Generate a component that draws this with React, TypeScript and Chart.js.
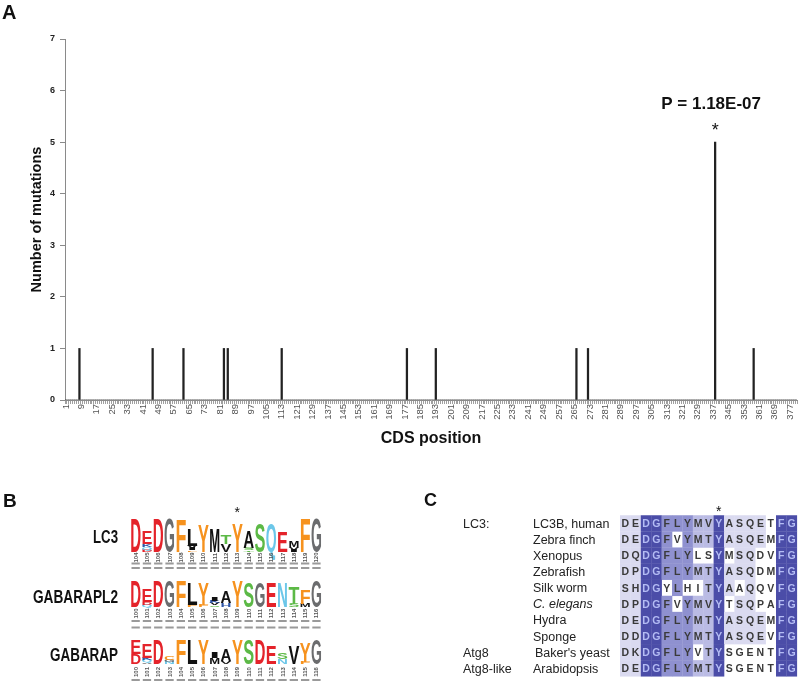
import React, { useEffect, useRef } from 'react';
import { Chart, registerables } from 'chart.js';

Chart.register(...registerables);

const FONT = '"Liberation Sans", Arial, Helvetica, sans-serif';

// ---------------- Panel A data ----------------
const cdsFirst = 1;
const cdsLast = 380;
const cdsPositions: string[] = Array.from({ length: cdsLast - cdsFirst + 1 }, (_, i) => String(cdsFirst + i));
const mutatedPositions = [8, 46, 62, 83, 85, 113, 178, 193, 266, 272, 338, 358];
const mutationCounts = [1, 1, 1, 1, 1, 1, 1, 1, 1, 1, 5, 1];
const yMin = 0;
const yMax = 7;
const xLabelEvery = 8;
const significantPosition = 338;
const pValueLabel = 'P = 1.18E-07';
const xTitle = 'CDS position';
const yTitle = 'Number of mutations';

// ---------------- Panel B data (sequence logos, heights in bits, top -> bottom) ----------------
type Stack = [string, number][];
const logoNames = ['LC3', 'GABARAPL2', 'GABARAP'];
const logoFirstResidue = [104, 100, 100];
const logoMaxBits = 4.2;
const lc3Logo: Stack[] = [
  [['D', 4.2]],
  [['E', 1.7], ['K', 0.35], ['Q', 0.3], ['D', 0.3]],
  [['D', 4.2]],
  [['G', 4.2]],
  [['F', 4.1]],
  [['L', 2.1], ['V', 0.3], ['I', 0.25], ['F', 0.2]],
  [['Y', 3.4]],
  [['M', 3.0]],
  [['T', 1.2], ['V', 1.0]],
  [['Y', 3.6]],
  [['A', 2.1], ['S', 0.3], ['T', 0.2]],
  [['S', 3.6]],
  [['Q', 3.6]],
  [['E', 2.7]],
  [['M', 0.8], ['V', 0.35], ['I', 0.3]],
  [['F', 4.2]],
  [['G', 4.2]],
];
const gabarapl2Logo: Stack[] = [
  [['D', 4.2]],
  [['E', 2.0], ['D', 0.45], ['Q', 0.35]],
  [['D', 4.2]],
  [['G', 4.2]],
  [['F', 4.2]],
  [['L', 3.6], ['F', 0.3]],
  [['Y', 3.6], ['F', 0.3]],
  [['I', 0.7], ['K', 0.35], ['V', 0.3], ['S', 0.25]],
  [['A', 1.9], ['H', 0.6]],
  [['Y', 4.2]],
  [['S', 4.0]],
  [['G', 4.0]],
  [['E', 4.0]],
  [['N', 3.9]],
  [['T', 2.6], ['S', 0.5]],
  [['F', 2.3], ['M', 0.5]],
  [['G', 4.2]],
];
const gabarapLogo: Stack[] = [
  [['E', 2.3], ['D', 1.6]],
  [['E', 2.2], ['K', 0.35], ['Q', 0.3], ['A', 0.25]],
  [['D', 4.0]],
  [['C', 0.6], ['G', 0.3], ['N', 0.3]],
  [['F', 4.0]],
  [['L', 4.0]],
  [['Y', 4.0]],
  [['I', 1.0], ['M', 1.0]],
  [['A', 1.8], ['V', 0.4]],
  [['Y', 4.0]],
  [['S', 4.0]],
  [['D', 4.0]],
  [['E', 2.8]],
  [['S', 1.0], ['N', 0.8]],
  [['V', 2.8]],
  [['Y', 3.0], ['F', 0.3]],
  [['G', 4.0]],
];
const logos = [lc3Logo, gabarapl2Logo, gabarapLogo];
const logoStarColumn = 9;

// ---------------- Panel C data (alignment) ----------------
const alignGroups = ['LC3:', '', '', '', '', '', '', '', 'Atg8', 'Atg8-like'];
const alignSpecies = ['LC3B, human', 'Zebra finch', 'Xenopus', 'Zebrafish', 'Silk worm', 'C. elegans', 'Hydra', 'Sponge', "Baker's yeast", 'Arabidopsis'];
const alignItalic = [false, false, false, false, false, true, false, false, false, false];
const alignSeqs = [
  'DEDGFLYMVYASQETFG',
  'DEDGFVYMTYASQEMFG',
  'DQDGFLYLSYMSQDVFG',
  'DPDGFLYMTYASQDMFG',
  'SHDGYLHITYAAQQVFG',
  'DPDGFVYMVYTSQPAFG',
  'DEDGFLYMTYASQEMFG',
  'DDDGFLYMTYASQEVFG',
  'DKDGFLYVTYSGENTFG',
  'DEDGFLYMTYSGENTFG',
];
// conservation shading: d = dark, m = medium, l = light, p = pale, . = none
const alignShading = [
  'ppddmmmlldpppp.dd',
  'ppddm.mlldpppp.dd',
  'ppddmmm..d.pp..dd',
  'ppddmmmlldppp..dd',
  'ppdd.m..ldp.p..dd',
  'ppddm.mlld.pp..dd',
  'ppddmmmlldpppp.dd',
  'ppddmmmlldpppp.dd',
  'ppddmmm.ld.....dd',
  'ppddmmmlld.....dd',
];
const alignStarColumn = 9;

// ---------------- styles ----------------
const residueColor: Record<string, string> = {
  D: '#e4232a', E: '#e4232a',
  G: '#6b6c6e',
  F: '#f6921e', Y: '#f6921e', C: '#f6921e', W: '#f6921e',
  L: '#111111', M: '#111111', I: '#111111', V: '#111111', A: '#111111', P: '#111111',
  S: '#5cb946', T: '#5cb946',
  N: '#6cc7e9', Q: '#6cc7e9',
  K: '#2e55a5', R: '#2e55a5', H: '#2e55a5',
};
const shadeColor: Record<string, string> = {
  d: '#4b4da8', m: '#8f91d0', l: '#babbe4', p: '#dadaf0', '.': 'transparent',
};

const annotationPlugin = {
  id: 'pValueAnnotation',
  afterDatasetsDraw(chart: any) {
    const { ctx, scales } = chart;
    const xs = scales.x;
    const ys = scales.y;
    const idx = cdsPositions.indexOf(String(significantPosition));
    const k = mutatedPositions.indexOf(significantPosition);
    const px = xs.getPixelForValue(idx);
    const py = ys.getPixelForValue(mutationCounts[k]);
    ctx.save();
    ctx.fillStyle = '#111';
    ctx.textAlign = 'center';
    ctx.textBaseline = 'alphabetic';
    ctx.font = `bold 17px ${FONT}`;
    ctx.fillText(pValueLabel, px - 4, py - 33);
    ctx.font = `18px ${FONT}`;
    ctx.fillText('*', px, py - 6);
    ctx.restore();
  },
};

function MutationChart() {
  const ref = useRef<HTMLCanvasElement | null>(null);
  useEffect(() => {
    if (!ref.current) return;
    const data = cdsPositions.map((p) => {
      const k = mutatedPositions.indexOf(Number(p));
      return k >= 0 ? mutationCounts[k] : 0;
    });
    const chart = new Chart(ref.current, {
      type: 'bar',
      data: {
        labels: cdsPositions,
        datasets: [
          {
            data,
            backgroundColor: '#222222',
            borderWidth: 0,
            barThickness: 1.6,
          },
        ],
      },
      options: {
        responsive: false,
        animation: false,
        events: [],
        layout: { padding: { top: 39, right: 3, bottom: 0, left: 0 } },
        plugins: { legend: { display: false }, tooltip: { enabled: false } },
        scales: {
          x: {
            type: 'category',
            offset: true,
            afterFit: (s: any) => { s.height = 60; s.paddingRight = 0; s.paddingLeft = 0; },
            grid: { drawOnChartArea: false, drawTicks: true, tickLength: 4, color: '#a0a0a0', offset: true },
            border: { display: true, color: '#8a8a8a', width: 1 },
            ticks: {
              autoSkip: false,
              minRotation: 90,
              maxRotation: 90,
              padding: 0,
              color: '#555',
              font: { family: FONT, size: 9.5 },
              callback: function (this: any, value: any, index: number) {
                return index % xLabelEvery === 0 ? this.getLabelForValue(value) : '';
              },
            },
            title: {
              display: true,
              text: xTitle,
              color: '#111',
              font: { family: FONT, size: 16, weight: 'bold' },
              padding: { top: 0, bottom: 12 },
            },
          },
          y: {
            min: yMin,
            max: yMax,
            afterFit: (s: any) => { s.width = 65; },
            grid: { drawOnChartArea: false, drawTicks: true, tickLength: 5, color: '#8a8a8a' },
            border: { display: true, color: '#8a8a8a', width: 1 },
            ticks: {
              stepSize: 1,
              padding: 5,
              color: '#222',
              font: { family: FONT, size: 9, weight: 'bold' },
            },
            title: {
              display: true,
              text: yTitle,
              color: '#111',
              font: { family: FONT, size: 14.5, weight: 'bold' },
              padding: { top: 28, bottom: 0 },
            },
          },
        },
      } as any,
      plugins: [annotationPlugin],
    });
    return () => chart.destroy();
  }, []);
  return <canvas ref={ref} width={800} height={460} style={{ display: 'block', width: 800, height: 460 }} />;
}

function LogoLetter({ ch, x, yBottom, w, h }: { ch: string; x: number; yBottom: number; w: number; h: number }) {
  if (h <= 0.2) return null;
  const sx = w / 70;
  const sy = h / 72;
  return (
    <text
      transform={`translate(${x},${yBottom}) scale(${sx},${sy})`}
      fontSize={100}
      fontWeight="bold"
      fontFamily={FONT}
      fill={residueColor[ch] || '#111'}
      textLength={70}
      lengthAdjust="spacingAndGlyphs"
    >
      {ch}
    </text>
  );
}

function PanelB() {
  const colX0 = 130;
  const colW = 11.3;
  const rowBottom = [552, 607, 664];
  const rowFull = [34, 27, 27];
  const numCenter = [557.5, 613.5, 672];
  const dashY = [[562.5, 567], [620, 626.5], [679]];
  const labelBaseline = [543, 603, 661];
  const labelWidth = [25, 85, 68];
  const out: any[] = [];
  logos.forEach((logo, r) => {
    out.push(
      <text key={`lab${r}`} x={118} y={labelBaseline[r]} textAnchor="end" fontFamily={FONT} fontWeight="bold" fontSize={18}
        fill="#111" textLength={labelWidth[r]} lengthAdjust="spacingAndGlyphs">{logoNames[r]}</text>
    );
    logo.forEach((stack, c) => {
      const x = colX0 + c * colW + 0.2;
      const pxPerBit = rowFull[r] / logoMaxBits;
      let y = rowBottom[r];
      for (let i = stack.length - 1; i >= 0; i--) {
        const [ch, bits] = stack[i];
        const h = bits * pxPerBit;
        out.push(<LogoLetter key={`l${r}-${c}-${i}`} ch={ch} x={x} yBottom={y} w={colW - 0.4} h={h} />);
        y -= h;
      }
      const cx = colX0 + c * colW + colW / 2;
      out.push(
        <text key={`n${r}-${c}`} transform={`translate(${cx + 2},${numCenter[r]}) rotate(-90)`} textAnchor="middle"
          fontFamily={FONT} fontSize={6} fontWeight="bold" fill="#555">{String(logoFirstResidue[r] + c)}</text>
      );
      dashY[r].forEach((dy, j) => {
        out.push(<rect key={`d${r}-${c}-${j}`} x={colX0 + c * colW + 1.5} y={dy} width={colW - 3} height={2} fill="#9a9a9a" />);
      });
    });
  });
  out.push(
    <text key="starB" x={colX0 + logoStarColumn * colW + colW / 2} y={517} textAnchor="middle" fontFamily={FONT} fontSize={14} fill="#111">*</text>
  );
  return <g>{out}</g>;
}

function PanelC() {
  const cellX0 = 620;
  const cellW = 10.4;
  const rowY0 = 523.3;
  const rowH = 16.1;
  const out: any[] = [];
  alignSeqs.forEach((seq, r) => {
    const cy = rowY0 + r * rowH;
    if (alignGroups[r]) {
      out.push(<text key={`g${r}`} x={463} y={cy + 4.5} fontFamily={FONT} fontSize={12.5} fill="#222">{alignGroups[r]}</text>);
    }
    out.push(
      <text key={`s${r}`} x={r === 8 ? 535 : 533} y={cy + 4.5} fontFamily={FONT} fontSize={12.5} fill="#222"
        fontStyle={alignItalic[r] ? 'italic' : 'normal'}>{alignSpecies[r]}</text>
    );
    seq.split('').forEach((ch, c) => {
      const sh = alignShading[r][c];
      const x = cellX0 + c * cellW;
      if (sh !== '.') {
        out.push(<rect key={`b${r}-${c}`} x={x} y={cy - rowH / 2} width={cellW + 0.3} height={rowH + 0.3} fill={shadeColor[sh]} />);
      }
      out.push(
        <text key={`t${r}-${c}`} x={x + cellW / 2} y={cy + 3.8} textAnchor="middle" fontFamily={FONT} fontWeight="bold"
          fontSize={10.5} fill={sh === 'd' ? '#b4bcf4' : '#3a3a3a'}>{ch}</text>
      );
    });
  });
  out.push(
    <text key="starC" x={cellX0 + alignStarColumn * cellW + cellW / 2} y={516} textAnchor="middle" fontFamily={FONT} fontSize={14} fill="#111">*</text>
  );
  return <g>{out}</g>;
}

export default function App() {
  return (
    <div style={{ position: 'absolute', left: 0, top: 0, width: 800, height: 683, background: '#fff', overflow: 'hidden' }}>
      <div style={{ position: 'absolute', left: 0, top: 0, width: 800, height: 460 }}>
        <MutationChart />
      </div>
      <svg width={800} height={683} style={{ position: 'absolute', left: 0, top: 0, pointerEvents: 'none' }}>
        <text x={2} y={19} fontFamily={FONT} fontWeight="bold" fontSize={20} fill="#111">A</text>
        <text x={3} y={507} fontFamily={FONT} fontWeight="bold" fontSize={19} fill="#111">B</text>
        <text x={424} y={506} fontFamily={FONT} fontWeight="bold" fontSize={18} fill="#111">C</text>
        <PanelB />
        <PanelC />
      </svg>
    </div>
  );
}
